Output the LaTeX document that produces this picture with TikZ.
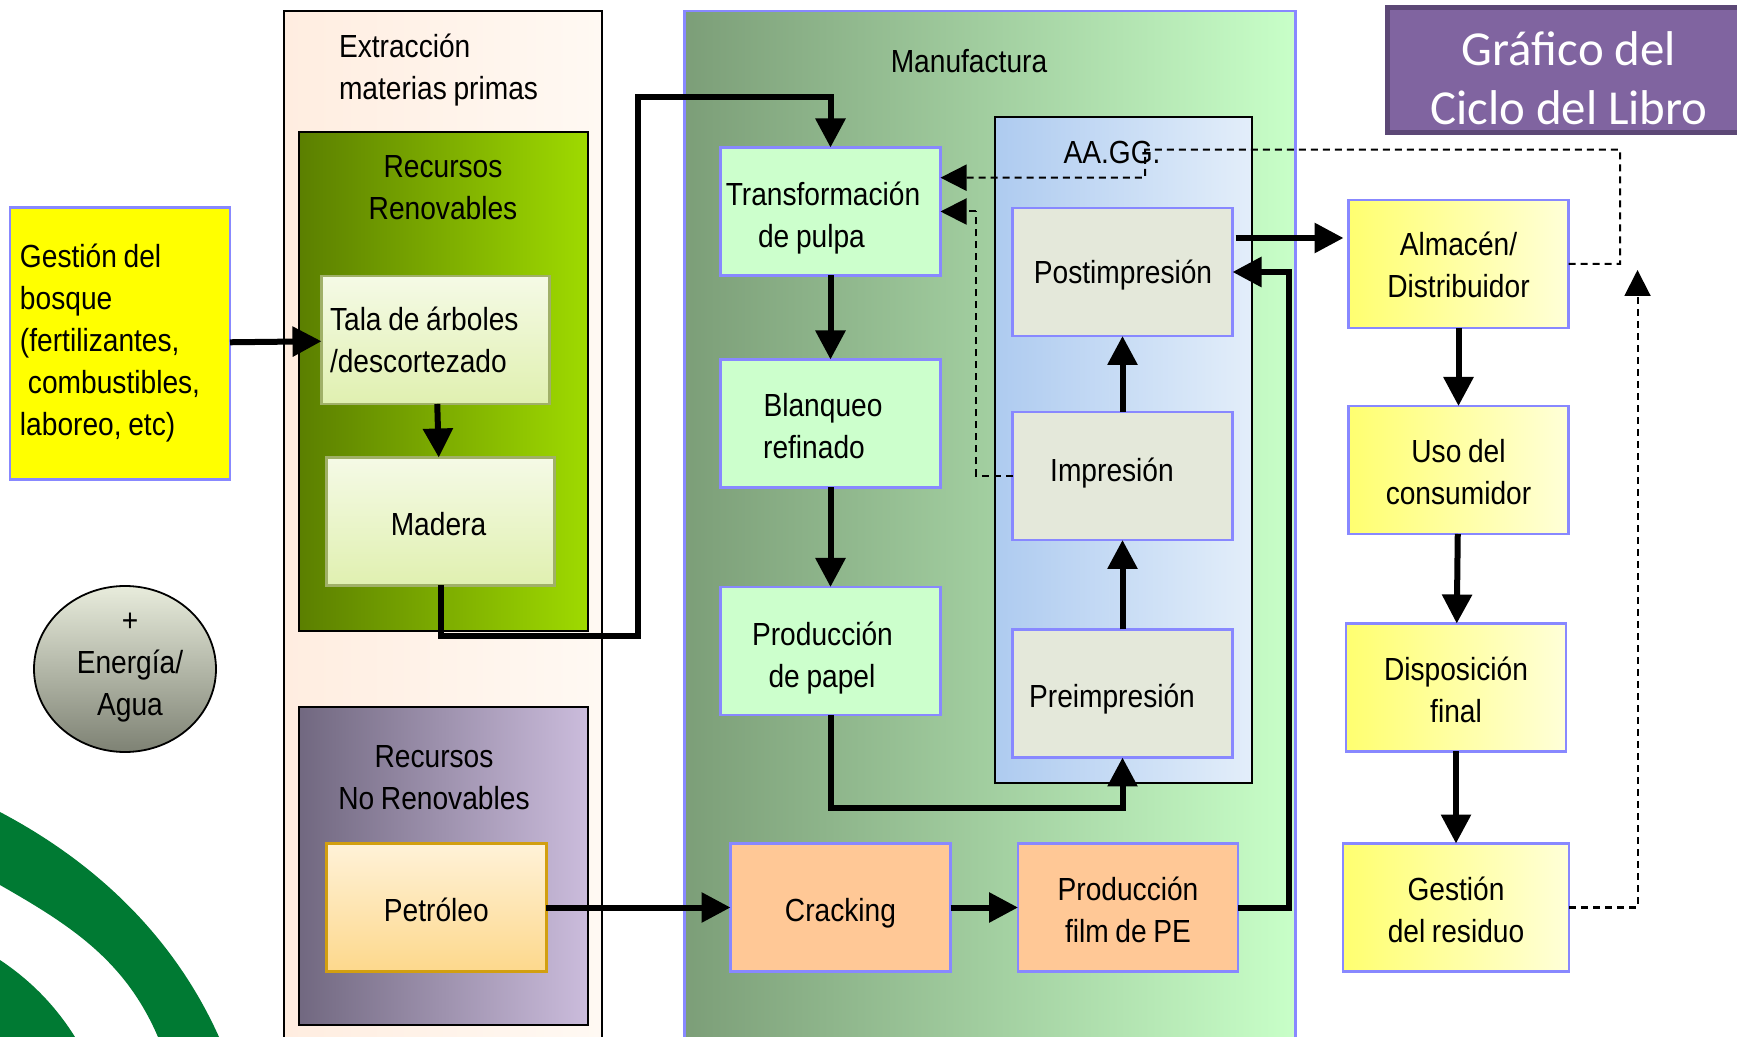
\documentclass[tikz,border=0pt]{standalone}
\usepackage{fontspec}
\setmainfont[FakeStretch=0.88,WordSpace=0.85]{Liberation Sans}
\newfontfamily\titulofont{Carlito}
\usetikzlibrary{arrows.meta}
\usetikzlibrary{shapes.geometric}
\newcommand{\corre}[3]{\hspace*{#1}\raisebox{#2}[\height][\depth]{#3}\hspace*{-#1}}
\definecolor{azulborde}{HTML}{8888FF}
\definecolor{verdehoja}{HTML}{007A33}
\definecolor{amarillo}{rgb}{1,1,0}
\tikzset{
  every node/.style={font=\fontsize{9.1}{11.95}\selectfont,inner sep=0pt,outer sep=0pt},
  caja/.style={draw=azulborde,line width=0.026cm,minimum width=2.2cm,minimum height=1.28cm,align=center},
  cajaverde/.style={caja,fill={rgb,255:red,204;green,255;blue,204}},
  cajagris/.style={caja,fill={rgb,255:red,228;green,232;blue,218}},
  cajanaranja/.style={caja,fill={rgb,255:red,255;green,200;blue,150}},
  cajaamarilla/.style={caja,left color={rgb,255:red,255;green,255;blue,112},right color={rgb,255:red,255;green,255;blue,216}},
  cajaclara/.style={draw={rgb,255:red,160;green,176;blue,104},line width=0.026cm,minimum width=2.28cm,minimum height=1.28cm,align=flush left,
    top color={rgb,255:red,245;green,250;blue,230},bottom color={rgb,255:red,224;green,240;blue,176}},
  panel/.style={draw=black,line width=0.018cm},
  flecha/.style={line width=0.06cm,-{Triangle[length=0.29cm,width=0.29cm]}},
  punteada/.style={line width=0.02cm,dash pattern=on 0.07cm off 0.05cm,-{Triangle[length=0.26cm,width=0.26cm]}},
  puntolibre/.style={line width=0.02cm,dash pattern=on 0.07cm off 0.05cm},
}

\begin{document}
\begin{tikzpicture}
    \useasboundingbox (0,0) rectangle (17.37,-10.37);
    \clip (0,0) rectangle (17.37,-10.37);

    % hoja verde de la esquina
    \fill[verdehoja] (0,-8.12) .. controls (1.1,-8.7) and (1.8,-9.5) .. (2.19,-10.37) -- (1.58,-10.37) .. controls (1.25,-9.6) and (0.7,-9.25) .. (0,-8.85) -- cycle;
    \fill[verdehoja] (0,-9.6) .. controls (0.3,-9.8) and (0.55,-10.05) .. (0.75,-10.37) -- (0,-10.37) -- cycle;

    \draw node at (1.2,-3.435)[name=gestion,draw=azulborde,line width=0.026cm,fill=amarillo,minimum width=2.2cm,minimum height=2.72cm,text width=2cm,align=flush left]{Gestión del\\bosque\\(fertilizantes,\\\hspace*{0.08cm}combustibles,\\laboreo, etc)};

    \draw node at (1.25,-6.69)[name=energia,ellipse,draw=black,line width=0.018cm,minimum width=1.82cm,minimum height=1.66cm,
      top color={rgb,255:red,232;green,236;blue,220},bottom color={rgb,255:red,126;green,130;blue,116}]{};
    \draw node at (1.3,-6.675)[name=energiatexto,align=center]{+\\Energía/\\Agua};

    \draw node at (4.43,-5.355)[name=extraccion,panel,left color={rgb,255:red,255;green,237;blue,224},right color={rgb,255:red,255;green,249;blue,243},minimum width=3.18cm,minimum height=10.49cm]{};
    \draw node at (3.39,-0.70)[name=extracciontexto,anchor=west,align=flush left]{Extracción\\materias primas};

    \draw node at (4.435,-3.815)[name=renovables,panel,line width=0.028cm,left color={rgb,255:red,91;green,127;blue,0},right color={rgb,255:red,159;green,218;blue,0},minimum width=2.89cm,minimum height=4.99cm]{};
    \draw node at (4.43,-1.88)[name=renovablestexto,align=center]{Recursos\\Renovables};
    \draw node at (4.355,-3.4)[name=tala,cajaclara,text width=2.11cm]{Tala de árboles\\/descortezado};
    \draw node at (4.405,-5.215)[name=madera,cajaclara,align=center]{\corre{-0.02cm}{-0.03cm}{Madera}};

    \draw node at (4.435,-8.66)[name=norenovables,panel,line width=0.028cm,left color={rgb,255:red,113;green,104;blue,128},right color={rgb,255:red,203;green,188;blue,220},minimum width=2.89cm,minimum height=3.18cm]{};
    \draw node at (4.34,-7.775)[name=norenovablestexto,align=center]{Recursos\\No Renovables};
    \draw node at (4.363,-9.075)[name=petroleo,draw={rgb,255:red,210;green,159;blue,16},line width=0.026cm,minimum width=2.2cm,minimum height=1.28cm,
      top color={rgb,255:red,255;green,242;blue,216},bottom color={rgb,255:red,253;green,216;blue,140}]{\corre{0cm}{-0.02cm}{Petróleo}};

    \draw node at (9.9,-5.355)[name=manufactura,draw=azulborde,line width=0.026cm,left color={rgb,255:red,124;green,158;blue,120},right color={rgb,255:red,200;green,255;blue,200},minimum width=6.11cm,minimum height=10.49cm]{};
    \draw node at (9.69,-0.61)[name=manufacturatexto]{Manufactura};

    \draw node at (8.305,-2.115)[name=pulpa,cajaverde]{\corre{-0.075cm}{-0.066cm}{Transformación}\\\corre{-0.19cm}{-0.066cm}{de pulpa}};
    \draw node at (8.305,-4.235)[name=blanqueo,cajaverde]{\corre{-0.075cm}{-0.03cm}{Blanqueo}\\\corre{-0.165cm}{-0.03cm}{refinado}};
    \draw node at (8.305,-6.51)[name=papel,cajaverde]{\corre{-0.08cm}{-0.075cm}{Producción}\\\corre{-0.085cm}{-0.075cm}{de papel}};

    \draw node at (11.235,-4.5)[name=aagg,panel,left color={rgb,255:red,174;green,203;blue,240},right color={rgb,255:red,227;green,238;blue,250},minimum width=2.57cm,minimum height=6.66cm]{};
    \draw node at (11.12,-1.52)[name=aaggtexto]{AA.GG.};
    \draw node at (11.225,-2.72)[name=postimpresion,cajagris]{\corre{0.005cm}{-0.03cm}{Postimpresión}};
    \draw node at (11.225,-4.76)[name=impresion,cajagris]{\corre{-0.105cm}{0.03cm}{Impresión}};
    \draw node at (11.225,-6.935)[name=preimpresion,cajagris]{\corre{-0.105cm}{-0.055cm}{Preimpresión}};

    \draw node at (8.405,-9.075)[name=cracking,cajanaranja]{\corre{0cm}{-0.055cm}{Cracking}};
    \draw node at (11.28,-9.075)[name=film,cajanaranja]{\corre{0cm}{-0.02cm}{Producción}\\\corre{0cm}{-0.02cm}{film de PE}};

    \draw node at (14.585,-2.64)[name=almacen,cajaamarilla]{\corre{0cm}{-0.01cm}{Almacén/}\\\corre{0cm}{-0.01cm}{Distribuidor}};
    \draw node at (14.585,-4.7)[name=uso,cajaamarilla]{\corre{0cm}{-0.02cm}{Uso del}\\\corre{0cm}{-0.02cm}{consumidor}};
    \draw node at (14.56,-6.875)[name=disposicion,cajaamarilla]{\corre{0cm}{-0.02cm}{Disposición}\\\corre{0cm}{-0.02cm}{final}};
    \draw node at (14.56,-9.075)[name=residuo,cajaamarilla,minimum width=2.26cm]{\corre{0cm}{-0.02cm}{Gestión}\\\corre{0cm}{-0.02cm}{del residuo}};

    \draw node at (15.69,-0.705)[name=titulo,draw={rgb,255:red,92;green,72;blue,118},line width=0.05cm,fill={rgb,255:red,128;green,100;blue,160},text=white,minimum width=3.64cm,minimum height=1.25cm,align=center,
      font=\titulofont\fontsize{13.9}{16.7}\selectfont]{\corre{0cm}{-0.075cm}{Gráfico del}\\\corre{0cm}{-0.075cm}{Ciclo del Libro}};

    \coordinate (giroa) at (6.376,-6.36);
    \coordinate (girob) at (6.376,-0.97);
    \coordinate (giroc) at (8.305,-0.97);
    \coordinate (girod) at (8.305,-8.08);
    \coordinate (giroe) at (11.225,-8.08);
    \coordinate (girof) at (12.885,-9.075);
    \coordinate (girog) at (12.885,-2.72);

    \draw[flecha](gestion) -- (tala);
    \draw[flecha](tala) -- (madera);
    \draw[flecha](madera.south) |- (giroa) -- (girob) -- (giroc) -- (pulpa.north);
    \draw[flecha](pulpa) -- (blanqueo);
    \draw[flecha](blanqueo) -- (papel);
    \draw[flecha](papel.south) -- (girod) -- (giroe) -- (preimpresion.south);
    \draw[flecha](preimpresion) -- (impresion);
    \draw[flecha](impresion) -- (postimpresion);
    \draw[flecha]([xshift=0.03cm,yshift=0.34cm]postimpresion.east) -- ([xshift=-0.05cm,yshift=0.26cm]almacen.west);
    \draw[flecha](petroleo) -- (cracking);
    \draw[flecha](cracking) -- (film);
    \draw[flecha](film.east) -- (girof) -- (girog) -- (postimpresion.east);
    \draw[flecha](almacen) -- (uso);
    \draw[flecha](uso) -- (disposicion);
    \draw[flecha](disposicion) -- (residuo);

    \begin{scope}
      \coordinate (vueltaa) at (16.2,-2.64);
      \coordinate (vueltab) at (16.2,-1.497);
      \coordinate (vueltac) at (11.45,-1.497);
      \coordinate (vueltad) at (11.45,-1.777);
      \draw[punteada](almacen.east) -- (vueltaa) -- (vueltab) -- (vueltac) -- (vueltad) -- ([yshift=0.338cm]pulpa.east);
      \coordinate (vueltae) at (9.76,-4.76);
      \coordinate (vueltaf) at (9.76,-2.115);
      \draw[puntolibre](impresion.west) -- (vueltae) -- (vueltaf);
      \draw[punteada](vueltaf) -- (pulpa.east);
      \coordinate (vueltag) at (16.375,-9.075);
      \coordinate (vueltah) at (16.375,-2.7);
      \draw[punteada](residuo.east) -- (vueltag) -- (vueltah);
    \end{scope}

  \end{tikzpicture}
\end{document}
